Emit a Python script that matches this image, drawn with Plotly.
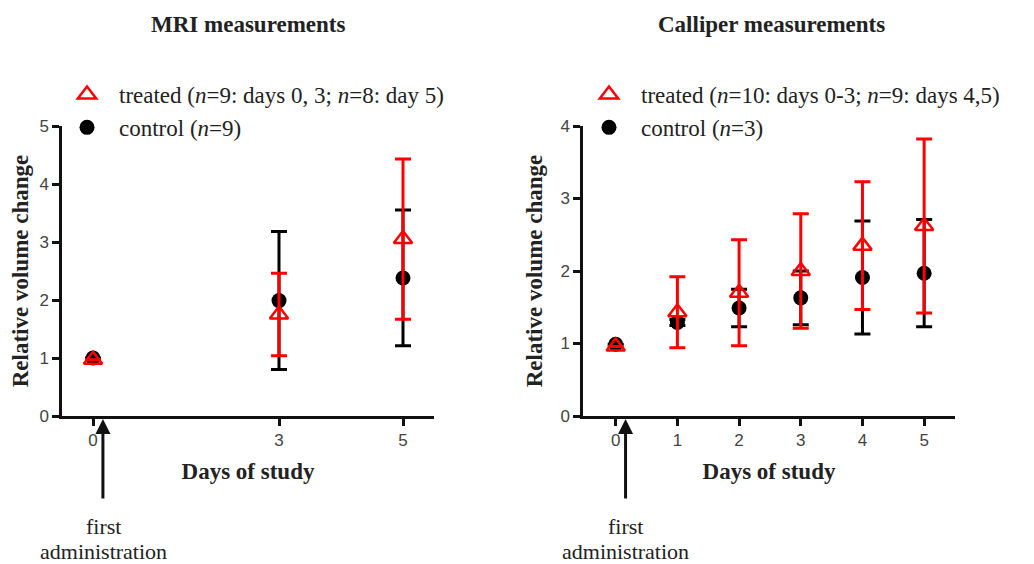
import plotly.graph_objects as go

# ---------------- data ----------------
mri_days = [0, 3, 5]
mri_control = [1.0, 1.99, 2.38]
mri_control_err = [0.0, 1.19, 1.17]
mri_treated = [0.97, 1.75, 3.05]
mri_treated_err = [0.0, 0.71, 1.38]

cal_days = [0, 1, 2, 3, 4, 5]
cal_control = [0.99, 1.29, 1.49, 1.63, 1.91, 1.97]
cal_control_err = [0.0, 0.04, 0.26, 0.37, 0.78, 0.74]
cal_treated = [0.96, 1.43, 1.70, 2.00, 2.35, 2.62]
cal_treated_err = [0.0, 0.49, 0.73, 0.79, 0.88, 1.20]

mri_ticks = [0, 3, 5]
cal_ticks = [0, 1, 2, 3, 4, 5]

RED = "#ff0000"
BLACK = "#000000"
SERIF = "Liberation Serif, Times New Roman, serif"
SANS = "Liberation Sans, Arial, sans-serif"

fig = go.Figure()

def add_pair(xs, ctrl, cerr, trt, terr, xa, ya, legend, tname, cname):
    fig.add_trace(go.Scatter(
        x=xs, y=ctrl, mode="markers", name=cname, xaxis=xa, yaxis=ya,
        legend=legend, legendrank=2,
        marker=dict(symbol="circle", size=15, color=BLACK),
        error_y=dict(type="data", array=cerr, visible=True, color=BLACK,
                     thickness=3, width=8),
    ))
    fig.add_trace(go.Scatter(
        x=xs, y=trt, mode="markers", name=tname, xaxis=xa, yaxis=ya,
        legend=legend, legendrank=1,
        marker=dict(symbol="triangle-up-open", size=16, color=RED,
                    line=dict(width=2.5, color=RED)),
        error_y=dict(type="data", array=terr, visible=True, color=RED,
                     thickness=3, width=8),
    ))

add_pair(mri_days, mri_control, mri_control_err, mri_treated, mri_treated_err,
         "x", "y", "legend",
         "treated (<i>n</i>=9: days 0, 3; <i>n</i>=8: day 5)",
         "control (<i>n</i>=9)")
add_pair(cal_days, cal_control, cal_control_err, cal_treated, cal_treated_err,
         "x2", "y2", "legend2",
         "treated (<i>n</i>=10: days 0-3; <i>n</i>=9: days 4,5)",
         "control (<i>n</i>=3)")

# the page body adds an 8px offset; work in window pixels
OFF = 8
W, H = 1034 - OFF, 564 - OFF
def px(x): return (x - OFF) / W
def py(y): return 1 - (y - OFF) / H

axis_common = dict(
    showline=True, linecolor="#111", linewidth=2.5, ticks="outside",
    ticklen=7, tickwidth=2.5, tickcolor="#111", showgrid=False,
    zeroline=False, automargin=False,
    tickfont=dict(family=SANS, size=17, color="#444"),
    title_font=dict(family=SERIF, size=23, color="#222"),
)

legend_common = dict(xanchor="left", yanchor="top", itemwidth=54,
                     font=dict(family=SERIF, size=23, color="#222"),
                     bgcolor="rgba(0,0,0,0)", tracegroupgap=0)

fig.update_layout(
    width=W, height=H, margin=dict(l=0, r=0, t=0, b=0),
    plot_bgcolor="white", paper_bgcolor="white",
    xaxis=dict(domain=[px(62), px(434)], range=[-0.5, 5.5], anchor="y",
               tickvals=mri_ticks, title=dict(text="<b>Days of study</b>", standoff=14),
               **axis_common),
    yaxis=dict(domain=[py(416), py(126)], range=[0, 5], anchor="x",
               tickvals=[0, 1, 2, 3, 4, 5],
               title=dict(text="<b>Relative volume change</b>", standoff=12),
               **axis_common),
    xaxis2=dict(domain=[px(583), px(955)], range=[-0.53, 5.5], anchor="y2",
                tickvals=cal_ticks, title=dict(text="<b>Days of study</b>", standoff=14),
                **axis_common),
    yaxis2=dict(domain=[py(416), py(126)], range=[0, 4], anchor="x2",
                tickvals=[0, 1, 2, 3, 4],
                title=dict(text="<b>Relative volume change</b>", standoff=12),
                **axis_common),
    legend=dict(x=px(55), y=py(73), **legend_common),
    legend2=dict(x=px(577), y=py(73), **legend_common),
    showlegend=True,
)

# panel titles
for cx, txt in [(248, "MRI measurements"), (771, "Calliper measurements")]:
    fig.add_annotation(x=px(cx), y=py(24), xref="paper", yref="paper",
                       xanchor="center", yanchor="middle",
                       text=f"<b>{txt}</b>", showarrow=False,
                       font=dict(family=SERIF, size=23, color="#222"))

# first administration arrows and labels
for xa, ya, cx in [("x", "y", 103), ("x2", "y2", 625)]:
    fig.add_annotation(x=0.16, y=0, xref=xa, yref=ya, ax=0, ay=84,
                       showarrow=True, arrowhead=2, arrowsize=1,
                       arrowwidth=3, arrowcolor="#111", text="",
                       standoff=3)
    for line_text, ly in [("first", 526), ("administration", 551)]:
        fig.add_annotation(x=px(cx), y=py(ly), xref="paper", yref="paper",
                           xanchor="center", yanchor="middle",
                           text=line_text, showarrow=False,
                           font=dict(family=SERIF, size=22, color="#222"))

fig.write_html("out.html")
